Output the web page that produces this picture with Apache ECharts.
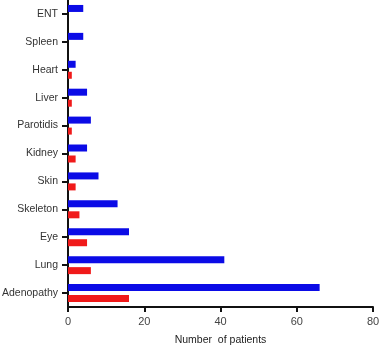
<!DOCTYPE html>
<html><head><meta charset="utf-8">
<script src="https://cdn.jsdelivr.net/npm/echarts@6/dist/echarts.min.js"></script>
<style>html,body{margin:0;padding:0;background:#fff}#c{width:380px;height:348px}</style>
</head><body><div id="c"></div>
<script>
const categories = ["Adenopathy","Lung","Eye","Skeleton","Skin","Kidney","Parotidis","Liver","Heart","Spleen","ENT"];
const blueValues = [66,41,16,13,8,5,6,5,2,4,4];
const redValues = [16,6,5,3,2,2,1,1,1,0,0];
const xTicks = [0,20,40,60,80];

const chart = echarts.init(document.getElementById('c'), null, {renderer:'canvas'});
chart.setOption({
  animation:false,
  grid:{left:68,right:7,top:0,bottom:41,containLabel:false,outerBoundsMode:'none'},
  xAxis:{
    type:'value', min:xTicks[0], max:xTicks[xTicks.length-1], interval:20,
    name:'Number  of patients', nameLocation:'middle', nameGap:28,
    nameTextStyle:{fontFamily:'Liberation Sans',fontSize:10.5,color:'#222'},
    axisLine:{show:true,lineStyle:{color:'#111',width:2}},
    axisTick:{show:true,length:5,lineStyle:{color:'#111',width:2}},
    axisLabel:{fontFamily:'Liberation Sans',fontSize:11,color:'#444',margin:9},
    splitLine:{show:false}
  },
  yAxis:{
    type:'category', data:categories,
    axisLine:{show:true,lineStyle:{color:'#111',width:2}},
    axisTick:{show:true,alignWithLabel:true,length:6,lineStyle:{color:'#111',width:2}},
    axisLabel:{fontFamily:'Liberation Sans',fontSize:10.5,color:'#333',margin:10}
  },
  series:[
    {type:'bar',data:blueValues,barWidth:7,barGap:'57%',itemStyle:{color:'#0b0be6'}},
    {type:'bar',data:redValues,barWidth:7,barGap:'57%',itemStyle:{color:'#f01a1a'}}
  ]
});
</script></body></html>
